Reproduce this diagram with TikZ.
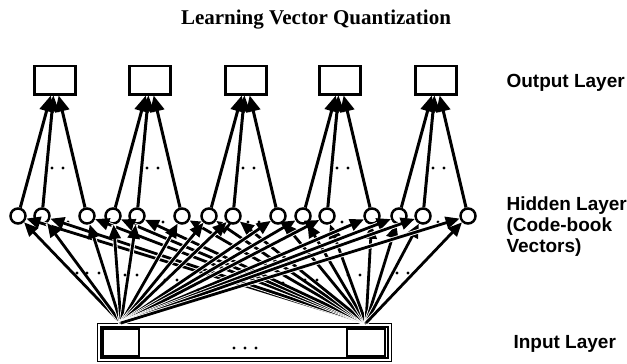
\documentclass[tikz,border=0pt]{standalone}
\usepackage{fontspec}
\setmainfont{Liberation Serif}
\setsansfont{Liberation Sans}
\usepackage{tikz}
\usetikzlibrary{arrows.meta,positioning}

\begin{document}
\begin{tikzpicture}[x=1pt,y=-1pt,
  outbox/.style={draw,line width=2.6pt,minimum width=41.4pt,minimum height=28.4pt,inner sep=0pt},
  unit/.style={draw,circle,line width=2.5pt,fill=white,minimum size=15pt,inner sep=0pt},
  inbox/.style={draw,line width=2.2pt,minimum height=26.8pt,inner sep=0pt},
  up/.style={line width=3pt,-{Triangle[length=16pt,width=14pt]}},
  feed/.style={line width=2.8pt,-{Triangle[length=14pt,width=12pt]},
    preaction={draw,white,line width=4.6pt,-}},
  layer/.style={font=\sffamily\bfseries\fontsize{19}{21}\selectfont,anchor=base west,align=left}]
\useasboundingbox (0,0) rectangle (627,364);
\node[font=\bfseries\fontsize{21}{24}\selectfont,anchor=base] (title) at (316,24)
  {Learning Vector Quantization};
\node[draw,double,line width=1.4pt,double distance=2pt,minimum width=290.2pt,
  minimum height=34.2pt,inner sep=0pt] (in) at (244.5,342.5) {};
\node[inbox,minimum width=35.8pt] (i1) at (121,342.5) {};
\node[inbox,minimum width=37.8pt] (i2) at (366,342.5) {};
\foreach \x in {234,245,256} \fill (\x,348) circle (1.6pt);
\coordinate (s1) at (121,323);
\coordinate (s2) at (366,323);
\foreach \k/\c in {1/55,2/150,3/246,4/340,5/436} {
  \node[outbox] (o\k) at (\c,80) {};
  \node[unit] (h\k1) at (\c-37,216) {};
  \node[unit] (h\k2) at (\c-13,216) {};
  \node[unit] (h\k3) at (\c+32,216) {};
  \foreach \j in {1,2,3} \draw[up] (h\k\j) -- (o\k);
  \fill (\c-3,168) circle (1.6pt) (\c+8,168) circle (1.6pt);
  \fill (\c+2,222) circle (1.6pt) (\c+13,222) circle (1.6pt);
}
\foreach \k in {1,...,5}
  \foreach \j in {1,2,3} {
    \draw[feed] (s1) -- (h\k\j);
    \draw[feed] (s2) -- (h\k\j);
  }
\foreach \x/\y in {77/273,87/273,99/273,125/275,137/275,165/280,177/280,198/290,
  283/283,305/280,317/280,348/275,360/275,397/273,408/273}
  \fill (\x,\y) circle (1.6pt);
\node[layer] (outlbl) at (503,87) {Output Layer};
\node[layer] (hidlbl) at (503,252) {Hidden Layer\\(Code-book\\Vectors)};
\node[layer] (inlbl) at (510,348) {Input Layer};
\end{tikzpicture}
\end{document}
